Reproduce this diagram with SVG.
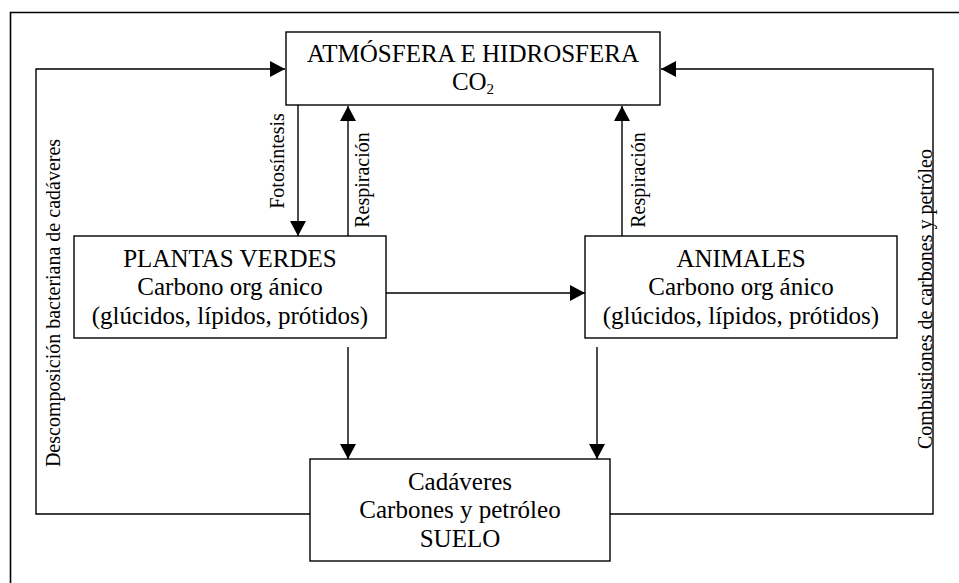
<svg xmlns="http://www.w3.org/2000/svg" width="959" height="583" viewBox="0 0 959 583">
<defs>
<style>
.box{fill:#fff;stroke:#000;stroke-width:1.4}
.ln{fill:none;stroke:#000;stroke-width:1.4}
.t{font-family:'Liberation Serif',serif;font-size:25px;fill:#000}
.l{font-family:'Liberation Serif',serif;font-size:20px;fill:#000}
</style>
<marker id="ah" markerUnits="userSpaceOnUse" markerWidth="16" markerHeight="17" refX="15" refY="8" orient="auto">
<path d="M0,0 L15,8 L0,16 Z" fill="#000"/>
</marker>
</defs>
<rect width="959" height="583" fill="#fff"/>
<path d="M10.5,583 V12.5 H959" fill="none" stroke="#000" stroke-width="1.6"/>
<g id="connectors">
<polyline class="ln" points="310,514 36,514 36,69 285,69" marker-end="url(#ah)"/>
<polyline class="ln" points="610,514 933,514 933,69 661,69" marker-end="url(#ah)"/>
<line class="ln" x1="298" y1="105" x2="298" y2="236" marker-end="url(#ah)"/>
<line class="ln" x1="348" y1="236" x2="348" y2="106" marker-end="url(#ah)"/>
<line class="ln" x1="622" y1="236" x2="622" y2="106" marker-end="url(#ah)"/>
<line class="ln" x1="386" y1="293" x2="585" y2="293" marker-end="url(#ah)"/>
<line class="ln" x1="348" y1="347" x2="348" y2="459" marker-end="url(#ah)"/>
<line class="ln" x1="597" y1="347" x2="597" y2="459" marker-end="url(#ah)"/>
<text class="l" font-family="'Liberation Serif', serif" text-anchor="middle" transform="translate(284,161) rotate(-90)">Fotosíntesis</text>
<text class="l" font-family="'Liberation Serif', serif" text-anchor="middle" transform="translate(369,180) rotate(-90)">Respiración</text>
<text class="l" font-family="'Liberation Serif', serif" text-anchor="middle" transform="translate(645,180) rotate(-90)">Respiración</text>
<text class="l" font-family="'Liberation Serif', serif" text-anchor="middle" transform="translate(59.5,303) rotate(-90)">Descomposición bacteriana de cadáveres</text>
<text class="l" font-family="'Liberation Serif', serif" text-anchor="middle" transform="translate(931.5,299) rotate(-90)">Combustiones de carbones y petróleo</text>
</g>
<g id="atmosfera">
<rect class="box" x="286" y="32" width="374" height="73"/>
<text class="t" font-family="'Liberation Serif', serif" text-anchor="middle" x="473" y="62">ATMÓSFERA E HIDROSFERA</text>
<text class="t" font-family="'Liberation Serif', serif" text-anchor="middle" x="473" y="90">CO<tspan font-size="15" dy="4">2</tspan></text>
</g>
<g id="plantas">
<rect class="box" x="74" y="236" width="312" height="102"/>
<text class="t" font-family="'Liberation Serif', serif" text-anchor="middle" x="230" y="267">PLANTAS VERDES</text>
<text class="t" font-family="'Liberation Serif', serif" text-anchor="middle" x="230" y="295">Carbono org<tspan dx="6">ánico</tspan></text>
<text class="t" font-family="'Liberation Serif', serif" text-anchor="middle" x="230" y="324">(glúcidos, lípidos, prótidos)</text>
</g>
<g id="animales">
<rect class="box" x="585" y="236" width="312" height="102"/>
<text class="t" font-family="'Liberation Serif', serif" text-anchor="middle" x="741" y="267">ANIMALES</text>
<text class="t" font-family="'Liberation Serif', serif" text-anchor="middle" x="741" y="295">Carbono org<tspan dx="6">ánico</tspan></text>
<text class="t" font-family="'Liberation Serif', serif" text-anchor="middle" x="741" y="324">(glúcidos, lípidos, prótidos)</text>
</g>
<g id="suelo">
<rect class="box" x="310" y="459" width="300" height="102"/>
<text class="t" font-family="'Liberation Serif', serif" text-anchor="middle" x="460" y="490">Cadáveres</text>
<text class="t" font-family="'Liberation Serif', serif" text-anchor="middle" x="460" y="518">Carbones y petróleo</text>
<text class="t" font-family="'Liberation Serif', serif" text-anchor="middle" x="460" y="547">SUELO</text>
</g>
</svg>
